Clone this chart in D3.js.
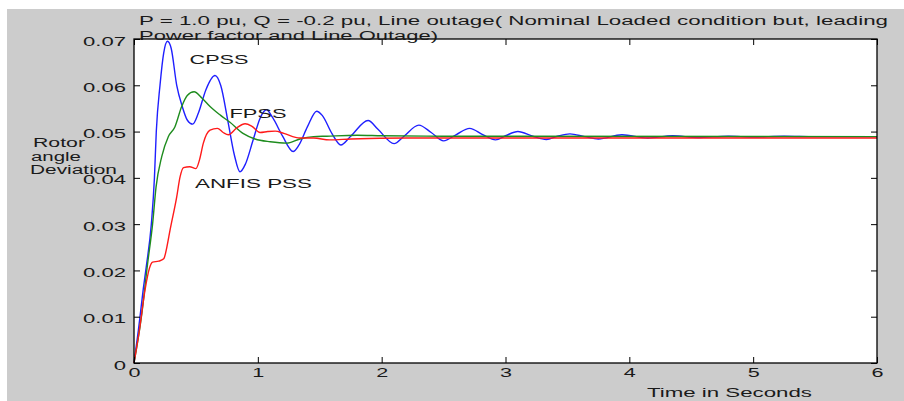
<!DOCTYPE html>
<html>
<head>
<meta charset="utf-8">
<script src="https://cdn.jsdelivr.net/npm/d3@7"></script>
<style>
  body { margin: 0; background: #ffffff; }
  text { font-family: "Liberation Sans", Arial, sans-serif; fill: #1a1a1a; }
</style>
</head>
<body>
<div id="chart"></div>
<script>
// Values
var titleLines = ["P = 1.0 pu, Q = -0.2 pu, Line outage( Nominal Loaded condition but, leading",
                  "Power factor and Line Outage)"];
var yLabelLines = ["Rotor", "angle", "Deviation"];
var xLabel = "Time in Seconds";
var xTicks = [0, 1, 2, 3, 4, 5, 6];
var yTicks = [0, 0.01, 0.02, 0.03, 0.04, 0.05, 0.06, 0.07];

// CPSS (blue): [time, deviation]
var cpss = [[0,0],[0.035,0.007],[0.075,0.016],[0.1,0.021],[0.14,0.03],[0.165,0.04],[0.18,0.05],
  [0.21,0.06],[0.24,0.067],[0.27,0.0695],[0.3,0.068],[0.345,0.06],[0.39,0.0554],[0.43,0.0525],
  [0.474,0.0516],[0.52,0.054],[0.58,0.059],[0.654,0.0621],[0.7,0.06],[0.76,0.052],[0.81,0.045],
  [0.856,0.0413],[0.9,0.043],[0.96,0.048],[1.02,0.053],[1.07,0.0547],[1.12,0.053],[1.2,0.049],
  [1.285,0.0457],[1.33,0.047],[1.4,0.051],[1.475,0.0544],[1.52,0.0535],[1.6,0.0495],[1.67,0.0471],
  [1.75,0.049],[1.89,0.0524],[1.97,0.0505],[2.1,0.0474],[2.18,0.049],[2.3,0.0514],[2.4,0.0498],
  [2.5,0.048],[2.6,0.0493],[2.71,0.0507],[2.82,0.0493],[2.92,0.0482],[3.0,0.0491],[3.1,0.05],
  [3.22,0.049],[3.33,0.0483],[3.42,0.049],[3.52,0.0495],[3.64,0.0489],[3.75,0.0484],[3.94,0.0493],
  [4.15,0.0486],[4.35,0.0491],[4.55,0.0487],[4.8,0.049],[5.0,0.0488],[5.25,0.049],[5.5,0.0489],[6,0.0489]];

// FPSS (green)
var fpss = [[0,0],[0.06,0.01],[0.11,0.0215],[0.15,0.03],[0.178,0.038],[0.224,0.0446],[0.277,0.0489],
  [0.33,0.051],[0.385,0.0554],[0.43,0.0578],[0.485,0.0586],[0.55,0.0572],[0.614,0.0554],[0.7,0.0535],
  [0.775,0.052],[0.88,0.0496],[0.977,0.0484],[1.1,0.0478],[1.233,0.0475],[1.34,0.0484],[1.45,0.0489],
  [1.556,0.049],[1.8,0.0492],[2.0,0.0491],[2.5,0.049],[6,0.0489]];

// ANFIS PSS (red)
var anfis = [[0,0],[0.043,0.007],[0.089,0.0158],[0.125,0.0205],[0.15,0.0218],[0.2,0.022],[0.24,0.0225],
  [0.265,0.025],[0.291,0.0287],[0.345,0.0359],[0.372,0.0402],[0.4,0.0422],[0.45,0.0424],[0.5,0.042],
  [0.53,0.044],[0.56,0.0475],[0.614,0.0503],[0.673,0.0507],[0.72,0.0498],[0.762,0.0493],[0.83,0.0508],
  [0.897,0.0517],[0.95,0.0512],[1.018,0.0498],[1.08,0.05],[1.14,0.0501],[1.21,0.0496],[1.34,0.0486],
  [1.45,0.0486],[1.58,0.0482],[1.75,0.0484],[1.9,0.0485],[2.2,0.0486],[6,0.0486]];

var seriesNames = ["CPSS", "FPSS", "ANFIS PSS"];
var seriesColors = ["#1f1fff", "#1e8c1e", "#ff1a1a"];

// Canvas
var W = 904, H = 401;
var margin = { top: 39, right: 27, bottom: 38, left: 134 },
    width = W - margin.left - margin.right,
    height = H - margin.top - margin.bottom;

// Stretch text horizontally (the source picture is wide)
function stretch(sel, factor) {
    sel.each(function() {
        var w = this.getComputedTextLength();
        if (w > 0) d3.select(this).attr("textLength", w * factor).attr("lengthAdjust", "spacingAndGlyphs");
    });
}
function fit(sel, w) {
    sel.attr("textLength", w).attr("lengthAdjust", "spacingAndGlyphs");
}

var svg = d3.select("#chart").append("svg")
    .attr("width", W)
    .attr("height", H);

// Gray figure background
svg.append("rect")
    .attr("x", 7).attr("y", 9)
    .attr("width", W - 7).attr("height", H - 9)
    .attr("fill", "#cccccc");

var g = svg.append("g")
    .attr("transform", "translate(" + margin.left + "," + margin.top + ")");

// White axes area
g.append("rect")
    .attr("width", width).attr("height", height)
    .attr("fill", "#ffffff");

var x = d3.scaleLinear().domain([0, 6]).range([0, width]);
var y = d3.scaleLinear().domain([0, 0.07]).range([height, 0]);

// Lines
var line = d3.line()
    .x(function(d) { return x(d[0]); })
    .y(function(d) { return y(d[1]); })
    .curve(d3.curveMonotoneX);

[cpss, fpss, anfis].forEach(function(data, i) {
    g.append("path")
        .datum(data)
        .attr("fill", "none")
        .attr("stroke", seriesColors[i])
        .attr("stroke-width", 1.4)
        .attr("d", line);
});

// Axes with inward ticks
var fmtY = function(d) { return d === 0 ? "0" : d3.format(".2f")(d); };

var xAxis = g.append("g")
    .attr("transform", "translate(0," + height + ")")
    .call(d3.axisBottom(x).tickValues(xTicks).tickSizeInner(-6).tickSizeOuter(0).tickPadding(12).tickFormat(d3.format("d")));

var yAxis = g.append("g")
    .call(d3.axisLeft(y).tickValues(yTicks).tickSizeInner(-6).tickSizeOuter(0).tickPadding(8).tickFormat(fmtY));

g.append("g")
    .call(d3.axisTop(x).tickValues(xTicks).tickSizeInner(-6).tickSizeOuter(0).tickFormat(""));

g.append("g")
    .attr("transform", "translate(" + width + ",0)")
    .call(d3.axisRight(y).tickValues(yTicks).tickSizeInner(-6).tickSizeOuter(0).tickFormat(""));

g.selectAll(".domain").remove();
g.selectAll(".tick line").attr("stroke", "#000");

[xAxis, yAxis].forEach(function(ax) {
    ax.selectAll("text")
        .style("font-family", "'Liberation Sans', Arial, sans-serif")
        .style("font-size", "12px")
        .attr("fill", "#1a1a1a");
});
yAxis.selectAll("text").attr("dy", "0.5em");
xAxis.selectAll("text").attr("dy", "0.2em");
stretch(xAxis.selectAll("text"), 1.8);
stretch(yAxis.selectAll("text"), 1.84);

// Frame
g.append("rect")
    .attr("width", width).attr("height", height)
    .attr("fill", "none")
    .attr("stroke", "#000")
    .attr("stroke-width", 1.3);

// Title (two lines, overlapping the top edge like the source)
var titleBase = [25, 40], titleWidth = [749, 299];
titleLines.forEach(function(t, i) {
    svg.append("text")
        .attr("x", 139).attr("y", titleBase[i])
        .style("font-size", "12.5px")
        .text(t)
        .call(fit, titleWidth[i]);
});

// Y label
var yLabBase = [147, 160.5, 174], yLabWidth = [52, 50, 87], yLabX = [33, 31, 30];
yLabelLines.forEach(function(t, i) {
    svg.append("text")
        .attr("x", yLabX[i]).attr("y", yLabBase[i])
        .style("font-size", "12.5px")
        .text(t)
        .call(fit, yLabWidth[i]);
});

// X label
svg.append("text")
    .attr("x", 647).attr("y", 397)
    .style("font-size", "12px")
    .text(xLabel)
    .call(fit, 165);

// Curve labels
var labPos = [[189.5, 63.5, 59], [229.5, 117.5, 57], [195, 187.5, 117]];
seriesNames.forEach(function(t, i) {
    svg.append("text")
        .attr("x", labPos[i][0]).attr("y", labPos[i][1])
        .style("font-size", "13px")
        .text(t)
        .call(fit, labPos[i][2]);
});
</script>
</body>
</html>
